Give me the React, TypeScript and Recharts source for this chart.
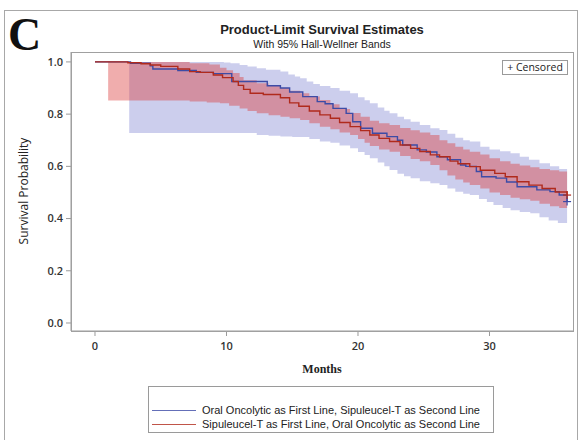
import React from "react";
import { ComposedChart, Line, Area, Scatter, XAxis, YAxis } from "recharts";

// ---- Data ----
const xTicks = [0, 10, 20, 30];
const yTicks = [0, 0.2, 0.4, 0.6, 0.8, 1.0];

// Oral Oncolytic first (blue)
const blueTimes = [0, 2.7, 4.2, 4.4, 6.3, 7.7, 9.0, 10.4, 13.1, 14.1, 14.8, 15.8, 16.9, 17.5, 18.1, 19.1, 19.6, 20.2, 21.1, 22.2, 23.0, 23.4, 24.5, 25.2, 26.0, 26.8, 27.8, 28.2, 29.0, 29.4, 30.5, 31.3, 32.1, 33.6, 34.6, 35.3, 35.9];
const blueSurv = [1.0, 0.995, 0.985, 0.973, 0.967, 0.96, 0.955, 0.925, 0.909, 0.9, 0.885, 0.867, 0.848, 0.84, 0.822, 0.803, 0.771, 0.746, 0.727, 0.714, 0.7, 0.682, 0.663, 0.655, 0.637, 0.625, 0.605, 0.6, 0.58, 0.56, 0.555, 0.54, 0.522, 0.51, 0.503, 0.49, 0.465];

// Sipuleucel-T first (red)
const redTimes = [0, 2.5, 3.5, 4.2, 5.0, 6.3, 7.2, 8.0, 9.0, 9.7, 10.5, 10.9, 11.3, 11.8, 12.8, 14.1, 14.8, 15.5, 16.3, 17.1, 17.9, 18.6, 19.4, 20.2, 20.9, 21.6, 22.4, 23.2, 24.0, 24.7, 25.5, 26.2, 27.0, 27.6, 28.5, 29.3, 30.4, 31.2, 32.1, 33.0, 34.0, 35.0, 35.9];
const redSurv = [1.0, 0.997, 0.993, 0.988, 0.983, 0.973, 0.963, 0.96, 0.95, 0.94, 0.925, 0.91, 0.895, 0.88, 0.875, 0.863, 0.843, 0.83, 0.812, 0.797, 0.784, 0.768, 0.752, 0.737, 0.72, 0.707, 0.695, 0.682, 0.669, 0.657, 0.644, 0.637, 0.62, 0.61, 0.599, 0.585, 0.573, 0.56, 0.541, 0.528, 0.515, 0.502, 0.49];

// Hall-Wellner bands (blue)
const blueTopTimes = [2.6, 9.8, 10.3, 11.0, 11.6, 12.3, 13.0, 14.1, 14.7, 15.2, 15.6, 16.1, 16.6, 17.1, 17.9, 18.6, 19.4, 20.0, 20.5, 20.9, 21.5, 22.0, 22.4, 23.0, 23.5, 24.0, 24.7, 25.5, 26.2, 26.8, 27.4, 28.0, 28.5, 29.3, 30.0, 30.8, 31.6, 32.3, 33.0, 33.8, 34.6, 35.3, 35.9];
const blueTop = [1.0, 0.998, 0.995, 0.988, 0.982, 0.976, 0.97, 0.963, 0.952, 0.944, 0.937, 0.925, 0.915, 0.908, 0.9, 0.89, 0.88, 0.865, 0.853, 0.842, 0.825, 0.813, 0.803, 0.79, 0.78, 0.771, 0.758, 0.746, 0.739, 0.725, 0.71, 0.7, 0.695, 0.675, 0.665, 0.658, 0.65, 0.637, 0.625, 0.612, 0.6, 0.59, 0.586];
const blueBottomTimes = [2.6, 12.3, 13.2, 14.1, 15.0, 16.3, 17.1, 17.9, 18.6, 19.4, 20.0, 20.5, 20.9, 21.5, 22.0, 22.4, 23.0, 23.5, 24.0, 24.7, 25.5, 26.2, 26.8, 27.4, 28.0, 28.5, 29.2, 29.8, 30.3, 31.0, 31.6, 32.3, 33.1, 33.8, 34.5, 35.2, 35.9];
const blueBottom = [0.728, 0.72, 0.717, 0.714, 0.712, 0.705, 0.695, 0.69, 0.68, 0.669, 0.655, 0.643, 0.631, 0.615, 0.6, 0.586, 0.572, 0.562, 0.554, 0.543, 0.535, 0.529, 0.515, 0.503, 0.495, 0.49, 0.475, 0.463, 0.452, 0.44, 0.432, 0.425, 0.42, 0.405, 0.393, 0.383, 0.375];

// Hall-Wellner bands (red)
const redTopTimes = [1.0, 7.2, 8.7, 9.5, 10.0, 10.5, 11.0, 11.3, 12.3, 13.2, 14.1, 14.8, 15.6, 16.3, 17.1, 17.9, 18.6, 19.4, 20.2, 20.9, 21.6, 22.4, 23.2, 24.0, 24.7, 25.5, 26.2, 26.8, 27.4, 28.0, 28.5, 29.3, 30.0, 30.8, 31.6, 32.3, 33.1, 33.8, 34.6, 35.3, 35.9];
const redTop = [1.0, 0.995, 0.99, 0.978, 0.968, 0.958, 0.942, 0.93, 0.918, 0.908, 0.9, 0.89, 0.88, 0.868, 0.854, 0.838, 0.82, 0.804, 0.79, 0.775, 0.765, 0.758, 0.747, 0.738, 0.73, 0.72, 0.7, 0.688, 0.675, 0.665, 0.656, 0.645, 0.631, 0.62, 0.61, 0.603, 0.597, 0.59, 0.585, 0.58, 0.577];
const redBottomTimes = [1.0, 7.2, 8.5, 9.5, 10.2, 11.0, 11.6, 12.3, 13.2, 14.1, 14.8, 15.6, 16.3, 17.1, 17.9, 18.6, 19.4, 20.0, 20.5, 20.9, 21.6, 22.4, 23.2, 24.0, 24.7, 25.5, 26.2, 26.8, 27.4, 28.0, 28.5, 29.3, 30.0, 30.8, 31.6, 32.3, 33.1, 33.8, 34.6, 35.3, 35.9];
const redBottom = [0.852, 0.848, 0.845, 0.842, 0.832, 0.822, 0.812, 0.803, 0.796, 0.79, 0.784, 0.778, 0.765, 0.752, 0.742, 0.73, 0.72, 0.705, 0.69, 0.678, 0.665, 0.656, 0.64, 0.628, 0.62, 0.605, 0.585, 0.565, 0.55, 0.538, 0.529, 0.515, 0.5, 0.49, 0.48, 0.474, 0.468, 0.457, 0.447, 0.44, 0.433];

const censorBlue = [{ t: 35.9, v: 0.465 }];
const censorRed = [{ t: 35.9, v: 0.49 }];

const seriesNames = [
  "Oral Oncolytic as First Line, Sipuleucel-T as Second Line",
  "Sipuleucel-T as First Line, Oral Oncolytic as Second Line",
];

// step-function lookup (value in effect at time t)
function stepAt(times: number[], vals: number[], t: number): number | undefined {
  if (t < times[0] || t > times[times.length - 1]) return undefined;
  let v = vals[0];
  for (let i = 0; i < times.length; i++) {
    if (times[i] <= t) v = vals[i];
    else break;
  }
  return v;
}

// ---- merged table ----
function buildTable() {
  const map = new Map<number, any>();
  const get = (t: number) => {
    if (!map.has(t)) map.set(t, { t });
    return map.get(t);
  };
  blueTimes.forEach((t, i) => (get(t).blue = blueSurv[i]));
  redTimes.forEach((t, i) => (get(t).red = redSurv[i]));
  const bandTimesB = Array.from(new Set([...blueTopTimes, ...blueBottomTimes])).sort((a, b) => a - b);
  bandTimesB.forEach((t) => {
    get(t).blueBand = [stepAt(blueBottomTimes, blueBottom, t), stepAt(blueTopTimes, blueTop, t)];
  });
  const bandTimesR = Array.from(new Set([...redTopTimes, ...redBottomTimes])).sort((a, b) => a - b);
  bandTimesR.forEach((t) => {
    get(t).redBand = [stepAt(redBottomTimes, redBottom, t), stepAt(redTopTimes, redTop, t)];
  });
  return Array.from(map.values()).sort((a, b) => a.t - b.t);
}
const table = buildTable();

const BLUE = "#3d4ba6";
const RED = "#b02a1c";
const SANS = "'Open Sans', 'DejaVu Sans', sans-serif";
const ARIAL = "'Liberation Sans', Arial, sans-serif";
const SERIF = "'Liberation Serif', 'Times New Roman', serif";

const Plus = (color: string) => (props: any) => {
  const { cx, cy } = props;
  if (cx == null || cy == null) return null;
  return (
    <g stroke={color} strokeWidth={1.2}>
      <line x1={cx - 4} x2={cx + 4} y1={cy} y2={cy} />
      <line x1={cx} x2={cx} y1={cy - 4} y2={cy + 4} />
    </g>
  );
};

export default function App() {
  return (
    <div style={{ position: "absolute", left: 0, top: 0, width: 582, height: 440, background: "#fff", overflow: "hidden" }}>
      {/* outer frame */}
      <div style={{ position: "absolute", left: 4, top: 10, width: 574, height: 440, border: "1px solid #a8a8a8", boxSizing: "border-box" }} />
      <div style={{ position: "absolute", left: 8, top: 12, fontFamily: SERIF, fontWeight: "bold", fontSize: 46, lineHeight: "46px", color: "#111" }}>C</div>
      <div style={{ position: "absolute", left: 71, width: 502, top: 22, textAlign: "center", fontFamily: ARIAL, fontWeight: "bold", fontSize: 13, color: "#222" }}>
        Product-Limit Survival Estimates
      </div>
      <div style={{ position: "absolute", left: 71, width: 502, top: 38, textAlign: "center", fontFamily: ARIAL, fontSize: 10.5, color: "#222" }}>
        With 95% Hall-Wellner Bands
      </div>
      <ComposedChart width={582} height={440} data={table} margin={{ top: 52, right: 9, bottom: 79, left: 31 }} style={{ position: "absolute", left: 0, top: 0 }}>
        <XAxis
          dataKey="t"
          type="number"
          domain={[-1.825, 36.35]}
          ticks={xTicks}
          allowDataOverflow
          height={30}
          axisLine={{ stroke: "#9a9a9a" }}
          tickLine={{ stroke: "#9a9a9a" }}
          tickSize={5}
          tickMargin={6}
          tick={{ fontSize: 11, fill: "#333", fontFamily: SANS, fontWeight: 600 }}
        />
        <YAxis
          type="number"
          domain={[-0.0307, 1.038]}
          ticks={yTicks}
          allowDataOverflow
          width={40}
          axisLine={{ stroke: "#9a9a9a" }}
          tickLine={{ stroke: "#9a9a9a" }}
          tickSize={5}
          tickMargin={3}
          tickFormatter={(v: number) => v.toFixed(1)}
          tick={{ fontSize: 11, fill: "#333", fontFamily: SANS, fontWeight: 600 }}
        />
        <Area dataKey="blueBand" type="stepAfter" stroke="none" fill="#8f93d6" fillOpacity={0.45} connectNulls isAnimationActive={false} />
        <Area dataKey="redBand" type="stepAfter" stroke="none" fill="#dc3c3c" fillOpacity={0.42} connectNulls isAnimationActive={false} />
        <Line dataKey="blue" type="stepAfter" stroke={BLUE} strokeWidth={1.4} dot={false} connectNulls isAnimationActive={false} />
        <Line dataKey="red" type="stepAfter" stroke={RED} strokeWidth={1.4} dot={false} connectNulls isAnimationActive={false} />
        <Scatter data={censorBlue} dataKey="v" shape={Plus(BLUE)} isAnimationActive={false} />
        <Scatter data={censorRed} dataKey="v" shape={Plus(RED)} isAnimationActive={false} />
      </ComposedChart>
      {/* plot frame */}
      <div style={{ position: "absolute", left: 71, top: 52, width: 503, height: 280, border: "1px solid #a0a0a0", boxSizing: "border-box", pointerEvents: "none" }} />
      {/* censored legend */}
      <div style={{ position: "absolute", left: 502, top: 60, width: 66, height: 15, border: "1px solid #9a9a9a", boxSizing: "border-box", fontFamily: SANS, fontSize: 10.5, lineHeight: "13px", textAlign: "center", color: "#222", whiteSpace: "nowrap" }}>
        + Censored
      </div>
      {/* y label */}
      <div style={{ position: "absolute", left: 23, top: 191, transform: "translate(-50%, -50%) rotate(-90deg)", fontFamily: SANS, fontSize: 12, color: "#222", whiteSpace: "nowrap" }}>
        Survival Probability
      </div>
      <div style={{ position: "absolute", left: 71, width: 502, top: 362, textAlign: "center", fontFamily: SERIF, fontWeight: "bold", fontSize: 12, color: "#222" }}>
        Months
      </div>
      {/* series legend */}
      <div style={{ position: "absolute", left: 148, top: 386, width: 346, height: 47, border: "1px solid #9a9a9a", boxSizing: "border-box", fontFamily: ARIAL, fontSize: 11, color: "#222" }}>
        {[BLUE, RED].map((c, i) => (
          <div key={i} style={{ position: "absolute", left: 3, top: 17 + i * 14, display: "flex", alignItems: "center", whiteSpace: "nowrap" }}>
            <div style={{ width: 44, height: 0, borderTop: `1.5px solid ${c}`, opacity: 0.8, marginRight: 6 }} />
            <span style={{ lineHeight: "13px" }}>{seriesNames[i]}</span>
          </div>
        ))}
      </div>
    </div>
  );
}
